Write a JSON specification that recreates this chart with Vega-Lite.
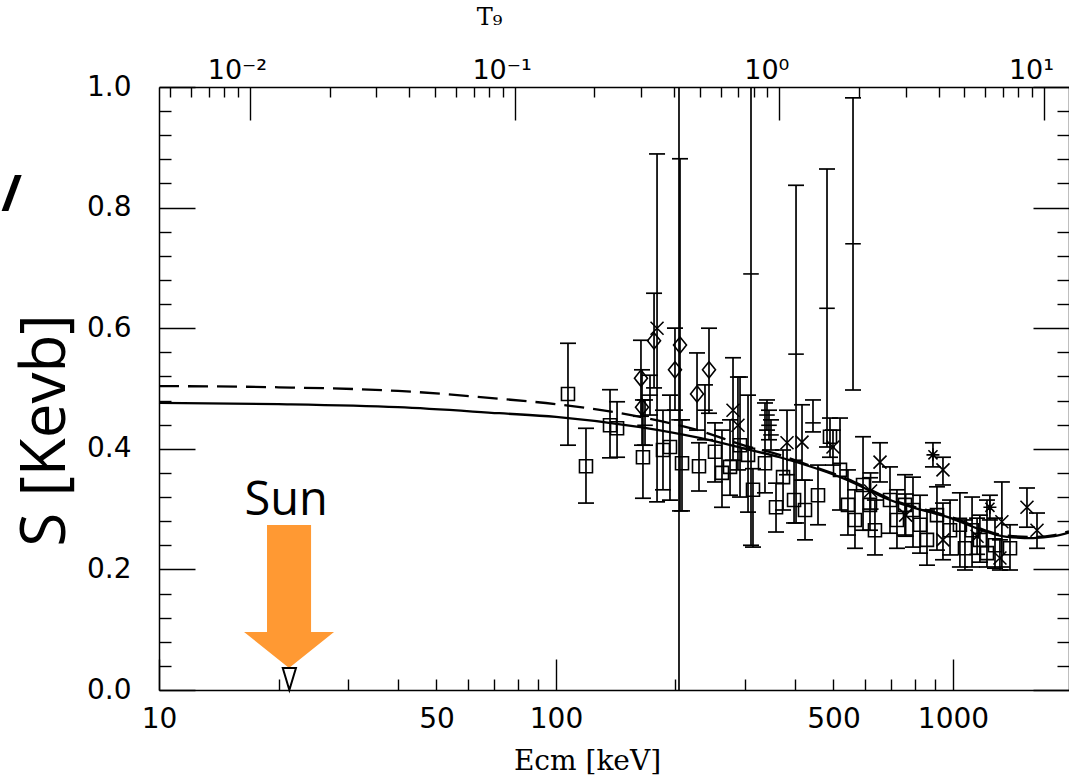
{
  "$schema": "https://vega.github.io/schema/vega-lite/v6.json",
  "width": 910,
  "height": 603,
  "autosize": {"type": "none"},
  "padding": {"left": 159, "top": 87, "right": 0, "bottom": 86},
  "background": "white",
  "config": {
    "view": {"stroke": null},
    "axis": {"domainColor": "black", "domainWidth": 1.5, "tickColor": "black", "tickWidth": 1.4, "labelColor": "black", "titleColor": "black", "grid": false, "labelFlush": false, "labelOverlap": false, "labelBound": false}
  },
  "datasets": {
    "pts": [
      {"E": 107.2, "S": 0.491, "lo": 0.406, "hi": 0.575, "m": "sq"},
      {"E": 119.0, "S": 0.371, "lo": 0.310, "hi": 0.434, "m": "sq"},
      {"E": 136.8, "S": 0.439, "lo": 0.385, "hi": 0.498, "m": "sq"},
      {"E": 142.5, "S": 0.434, "lo": 0.386, "hi": 0.478, "m": "sq"},
      {"E": 163.7, "S": 0.517, "lo": 0.454, "hi": 0.580, "m": "di"},
      {"E": 164.7, "S": 0.469, "lo": 0.406, "hi": 0.531, "m": "di"},
      {"E": 165.6, "S": 0.386, "lo": 0.318, "hi": 0.481, "m": "sq"},
      {"E": 176.6, "S": 0.579, "lo": 0.501, "hi": 0.658, "m": "di"},
      {"E": 179.7, "S": 0.600, "lo": 0.312, "hi": 0.889, "m": "x"},
      {"E": 186.0, "S": 0.398, "lo": 0.332, "hi": 0.464, "m": "sq"},
      {"E": 193.7, "S": 0.403, "lo": 0.315, "hi": 0.489, "m": "sq"},
      {"E": 199.4, "S": 0.531, "lo": 0.464, "hi": 0.600, "m": "di"},
      {"E": 205.3, "S": 0.572, "lo": 0.297, "hi": 0.881, "m": "di"},
      {"E": 204.1, "S": 0.448, "lo": -0.3, "hi": 1.3, "m": "da"},
      {"E": 207.7, "S": 0.376, "lo": 0.297, "hi": 0.448, "m": "sq"},
      {"E": 226.6, "S": 0.491, "lo": 0.431, "hi": 0.559, "m": "di"},
      {"E": 229.2, "S": 0.371, "lo": 0.330, "hi": 0.410, "m": "sq"},
      {"E": 242.9, "S": 0.531, "lo": 0.459, "hi": 0.600, "m": "di"},
      {"E": 251.5, "S": 0.395, "lo": 0.345, "hi": 0.443, "m": "sq"},
      {"E": 261.9, "S": 0.360, "lo": 0.303, "hi": 0.431, "m": "sq"},
      {"E": 274.4, "S": 0.370, "lo": 0.323, "hi": 0.448, "m": "sq"},
      {"E": 279.2, "S": 0.464, "lo": 0.381, "hi": 0.551, "m": "x"},
      {"E": 287.3, "S": 0.439, "lo": 0.365, "hi": 0.519, "m": "x"},
      {"E": 304.6, "S": 0.390, "lo": 0.295, "hi": 0.489, "m": "sq"},
      {"E": 309.9, "S": 0.690, "lo": 0.240, "hi": 1.139, "m": "da"},
      {"E": 313.5, "S": 0.332, "lo": 0.237, "hi": 0.367, "m": "sq"},
      {"E": 336.1, "S": 0.376, "lo": 0.327, "hi": 0.476, "m": "sq"},
      {"E": 344.0, "S": 0.439, "lo": 0.415, "hi": 0.464, "m": "da"},
      {"E": 358.3, "S": 0.303, "lo": 0.262, "hi": 0.343, "m": "sq"},
      {"E": 373.2, "S": 0.353, "lo": 0.2985, "hi": 0.398, "m": "sq"},
      {"E": 381.9, "S": 0.410, "lo": 0.357, "hi": 0.464, "m": "x"},
      {"E": 397.8, "S": 0.315, "lo": 0.277, "hi": 0.381, "m": "sq"},
      {"E": 402.4, "S": 0.557, "lo": 0.277, "hi": 0.837, "m": "da"},
      {"E": 416.6, "S": 0.411, "lo": 0.348, "hi": 0.473, "m": "x"},
      {"E": 444.0, "S": 0.443, "lo": 0.428, "hi": 0.481, "m": "da"},
      {"E": 481.6, "S": 0.633, "lo": 0.403, "hi": 0.864, "m": "da"},
      {"E": 490.0, "S": 0.420, "lo": 0.386, "hi": 0.451, "m": "sq"},
      {"E": 498.6, "S": 0.403, "lo": 0.373, "hi": 0.431, "m": "x"},
      {"E": 519.3, "S": 0.365, "lo": 0.2985, "hi": 0.451, "m": "sq"},
      {"E": 560.0, "S": 0.740, "lo": 0.4975, "hi": 0.982, "m": "da"},
      {"E": 593.5, "S": 0.340, "lo": 0.265, "hi": 0.420, "m": "sq"},
      {"E": 655.0, "S": 0.378, "lo": 0.345, "hi": 0.410, "m": "x"},
      {"E": 694.0, "S": 0.315, "lo": 0.260, "hi": 0.370, "m": "sq"},
      {"E": 793.0, "S": 0.2985, "lo": 0.237, "hi": 0.353, "m": "sq"},
      {"E": 890.4, "S": 0.390, "lo": 0.370, "hi": 0.410, "m": "st"},
      {"E": 943.6, "S": 0.365, "lo": 0.340, "hi": 0.386, "m": "x"},
      {"E": 911.3, "S": 0.290, "lo": 0.232, "hi": 0.337, "m": "sq"},
      {"E": 943.6, "S": 0.249, "lo": 0.216, "hi": 0.310, "m": "x"},
      {"E": 1041, "S": 0.274, "lo": 0.204, "hi": 0.327, "m": "sq"},
      {"E": 1117, "S": 0.265, "lo": 0.204, "hi": 0.320, "m": "sq"},
      {"E": 1218, "S": 0.227, "lo": 0.204, "hi": 0.315, "m": "sq"},
      {"E": 1239, "S": 0.303, "lo": 0.282, "hi": 0.323, "m": "st"},
      {"E": 1328, "S": 0.279, "lo": 0.204, "hi": 0.345, "m": "x"},
      {"E": 1313, "S": 0.219, "lo": 0.199, "hi": 0.249, "m": "x"},
      {"E": 1536, "S": 0.303, "lo": 0.270, "hi": 0.335, "m": "x"},
      {"E": 1628, "S": 0.265, "lo": 0.235, "hi": 0.2935, "m": "x"},
      {"E": 423.9, "S": 0.2985, "lo": 0.249, "hi": 0.348, "m": "sq"},
      {"E": 457.1, "S": 0.323, "lo": 0.274, "hi": 0.373, "m": "sq"},
      {"E": 543.8, "S": 0.307, "lo": 0.257, "hi": 0.365, "m": "sq"},
      {"E": 566.4, "S": 0.282, "lo": 0.235, "hi": 0.332, "m": "sq"},
      {"E": 617.9, "S": 0.307, "lo": 0.265, "hi": 0.352, "m": "sq"},
      {"E": 636.0, "S": 0.265, "lo": 0.224, "hi": 0.315, "m": "sq"},
      {"E": 722.6, "S": 0.282, "lo": 0.235, "hi": 0.332, "m": "sq"},
      {"E": 757.0, "S": 0.307, "lo": 0.257, "hi": 0.357, "m": "sq"},
      {"E": 826.0, "S": 0.274, "lo": 0.227, "hi": 0.323, "m": "sq"},
      {"E": 860.0, "S": 0.249, "lo": 0.207, "hi": 0.2985, "m": "sq"},
      {"E": 983.0, "S": 0.265, "lo": 0.224, "hi": 0.315, "m": "sq"},
      {"E": 1072, "S": 0.235, "lo": 0.199, "hi": 0.282, "m": "sq"},
      {"E": 1169, "S": 0.249, "lo": 0.212, "hi": 0.290, "m": "sq"},
      {"E": 1276, "S": 0.240, "lo": 0.202, "hi": 0.285, "m": "sq"},
      {"E": 1392, "S": 0.235, "lo": 0.199, "hi": 0.274, "m": "sq"},
      {"E": 167.6, "S": 0.439, "lo": 0.406, "hi": 0.481, "m": "da"},
      {"E": 172.5, "S": 0.489, "lo": 0.456, "hi": 0.522, "m": "da"},
      {"E": 340.0, "S": 0.456, "lo": 0.431, "hi": 0.481, "m": "da"},
      {"E": 348.0, "S": 0.423, "lo": 0.398, "hi": 0.448, "m": "da"},
      {"E": 237.3, "S": 0.464, "lo": 0.415, "hi": 0.506, "m": "da"},
      {"E": 290.8, "S": 0.406, "lo": 0.320, "hi": 0.519, "m": "sq"},
      {"E": 620.0, "S": 0.330, "lo": 0.300, "hi": 0.360, "m": "x"},
      {"E": 760.0, "S": 0.290, "lo": 0.255, "hi": 0.325, "m": "x"},
      {"E": 1150, "S": 0.255, "lo": 0.225, "hi": 0.285, "m": "x"}
    ],
    "solid": [
      {"E": 10, "S": 0.476}, {"E": 20, "S": 0.474}, {"E": 40, "S": 0.469}, {"E": 72, "S": 0.459},
      {"E": 100, "S": 0.453}, {"E": 163, "S": 0.436}, {"E": 230, "S": 0.418}, {"E": 300, "S": 0.400},
      {"E": 366, "S": 0.386}, {"E": 412, "S": 0.376}, {"E": 543, "S": 0.348}, {"E": 694, "S": 0.315},
      {"E": 966, "S": 0.287}, {"E": 1368, "S": 0.254}, {"E": 1591, "S": 0.252}, {"E": 1800, "S": 0.255}, {"E": 1960, "S": 0.261}
    ],
    "dashed": [
      {"E": 10, "S": 0.504}, {"E": 20, "S": 0.502}, {"E": 40, "S": 0.496}, {"E": 72, "S": 0.483},
      {"E": 100, "S": 0.474}, {"E": 163, "S": 0.453}, {"E": 230, "S": 0.430}, {"E": 300, "S": 0.405},
      {"E": 366, "S": 0.390}, {"E": 412, "S": 0.378}, {"E": 543, "S": 0.350}, {"E": 694, "S": 0.317},
      {"E": 966, "S": 0.289}, {"E": 1368, "S": 0.256}, {"E": 1591, "S": 0.254}, {"E": 1800, "S": 0.257}, {"E": 1960, "S": 0.263}
    ]
  },
  "layer": [
    {
      "data": {"name": "solid"},
      "mark": {"type": "line", "color": "black", "strokeWidth": 2.3, "interpolate": "monotone"},
      "encoding": {
        "x": {"field": "E", "type": "quantitative", "scale": {"type": "log", "domain": [10, 1960], "nice": false},
          "axis": {
            "orient": "bottom",
            "values": [10, 20, 30, 40, 50, 60, 70, 80, 90, 100, 200, 300, 400, 500, 600, 700, 800, 900, 1000],
            "labelExpr": "(datum.value==10||datum.value==50||datum.value==100||datum.value==500||datum.value==1000)?format(datum.value,'d'):''",
            "tickSize": {"condition": {"test": "datum.value==10||datum.value==100||datum.value==1000", "value": -31}, "value": -11},
            "labelPadding": {"condition": {"test": "datum.value==10||datum.value==100||datum.value==1000", "value": 46}, "value": 26},
            "labelFont": "DejaVu Sans", "labelFontSize": 28, "labelFontWeight": "normal", "labelBaseline": "top",
            "title": "Ecm [keV]", "titleFont": "DejaVu Serif", "titleFontSize": 28, "titleFontWeight": "normal",
            "titleX": 428, "titleY": 79, "titleAlign": "center", "titleBaseline": "alphabetic"
          }},
        "y": {"field": "S", "type": "quantitative", "scale": {"domain": [0, 1], "nice": false, "zero": false},
          "axis": {
            "orient": "left",
            "values": [0, 0.04, 0.08, 0.12, 0.16, 0.2, 0.24, 0.28, 0.32, 0.36, 0.4, 0.44, 0.48, 0.52, 0.56, 0.6, 0.64, 0.68, 0.72, 0.76, 0.8, 0.84, 0.88, 0.92, 0.96, 1],
            "labelExpr": "abs(datum.value*5-round(datum.value*5))<0.001?format(datum.value,'.1f'):''",
            "tickSize": {"condition": {"test": "abs(datum.value*5-round(datum.value*5))<0.001", "value": -36}, "value": -12},
            "labelPadding": {"condition": {"test": "abs(datum.value*5-round(datum.value*5))<0.001", "value": 64}, "value": 40},
            "labelFont": "DejaVu Sans", "labelFontSize": 28, "labelFontWeight": "normal", "labelBaseline": "middle",
            "title": "S [Kevb]", "titleFont": "Open Sans", "titleFontSize": 62, "titleFontWeight": "normal",
            "titleAngle": 270, "titleX": -114, "titleY": 343, "titleAlign": "center", "titleBaseline": "middle"
          }}
      }
    },
    {
      "data": {"name": "dashed"},
      "mark": {"type": "line", "color": "black", "strokeWidth": 2.3, "strokeDash": [20, 9], "interpolate": "monotone"},
      "encoding": {
        "x": {"field": "E", "type": "quantitative", "scale": {"type": "log", "domain": [10, 1960], "nice": false}, "axis": null},
        "y": {"field": "S", "type": "quantitative", "scale": {"domain": [0, 1], "nice": false, "zero": false}, "axis": null}
      }
    },
    {
      "data": {"name": "pts"},
      "mark": {"type": "rule", "color": "black", "strokeWidth": 1.7, "clip": true},
      "encoding": {
        "x": {"field": "E", "type": "quantitative", "scale": {"type": "log", "domain": [10, 1960], "nice": false}, "axis": null},
        "y": {"field": "lo", "type": "quantitative", "scale": {"domain": [0, 1], "nice": false, "zero": false}, "axis": null},
        "y2": {"field": "hi"}
      }
    },
    {
      "data": {"name": "pts"},
      "mark": {"type": "tick", "orient": "horizontal", "size": 16, "thickness": 1.7, "color": "black", "opacity": 1, "clip": true},
      "encoding": {
        "x": {"field": "E", "type": "quantitative", "scale": {"type": "log", "domain": [10, 1960], "nice": false}, "axis": null},
        "y": {"field": "lo", "type": "quantitative", "scale": {"domain": [0, 1], "nice": false, "zero": false}, "axis": null}
      }
    },
    {
      "data": {"name": "pts"},
      "mark": {"type": "tick", "orient": "horizontal", "size": 16, "thickness": 1.7, "color": "black", "opacity": 1, "clip": true},
      "encoding": {
        "x": {"field": "E", "type": "quantitative", "scale": {"type": "log", "domain": [10, 1960], "nice": false}, "axis": null},
        "y": {"field": "hi", "type": "quantitative", "scale": {"domain": [0, 1], "nice": false, "zero": false}, "axis": null}
      }
    },
    {
      "data": {"name": "pts"},
      "mark": {"type": "point", "filled": false, "stroke": "black", "strokeWidth": 1.6, "size": 169, "opacity": 1, "clip": true},
      "encoding": {
        "x": {"field": "E", "type": "quantitative", "scale": {"type": "log", "domain": [10, 1960], "nice": false}, "axis": null},
        "y": {"field": "S", "type": "quantitative", "scale": {"domain": [0, 1], "nice": false, "zero": false}, "axis": null},
        "shape": {"field": "m", "type": "nominal", "legend": null,
          "scale": {"domain": ["sq", "x", "di", "st", "da"],
            "range": ["M-1,-1L1,-1L1,1L-1,1Z", "M-1,-1L1,1M-1,1L1,-1", "M0,-1.25L1,0L0,1.25L-1,0Z", "M-1,0L1,0M0,-1L0,1M-0.7,-0.7L0.7,0.7M-0.7,0.7L0.7,-0.7", "M-1.2,0L1.2,0"]}}
      }
    },
    {
      "data": {"values": [{"E": 21.26, "S": 0.155}]},
      "mark": {"type": "point", "shape": "M-0.308,-1L0.308,-1L0.308,0.497L0.629,0.497L0,1L-0.629,0.497L-0.308,0.497Z", "size": 20449, "filled": true, "color": "#FF9933", "opacity": 1, "strokeWidth": 0},
      "encoding": {
        "x": {"field": "E", "type": "quantitative", "scale": {"type": "log", "domain": [10, 1960], "nice": false}, "axis": null},
        "y": {"field": "S", "type": "quantitative", "scale": {"domain": [0, 1], "nice": false, "zero": false}, "axis": null}
      }
    },
    {
      "data": {"values": [{"E": 21.3, "S": 0}]},
      "mark": {"type": "point", "shape": "M-0.6,-2L0.6,-2L0,0Z", "size": 484, "filled": false, "stroke": "black", "strokeWidth": 2, "opacity": 1},
      "encoding": {
        "x": {"field": "E", "type": "quantitative", "scale": {"type": "log", "domain": [10, 1960], "nice": false}, "axis": null},
        "y": {"field": "S", "type": "quantitative", "scale": {"domain": [0, 1], "nice": false, "zero": false}, "axis": null}
      }
    },
    {
      "data": {"values": [{"E": 20.9, "S": 0.29, "t": "Sun"}]},
      "mark": {"type": "text", "font": "Open Sans", "fontSize": 47, "color": "black", "align": "center", "baseline": "alphabetic"},
      "encoding": {
        "x": {"field": "E", "type": "quantitative", "scale": {"type": "log", "domain": [10, 1960], "nice": false}, "axis": null},
        "y": {"field": "S", "type": "quantitative", "scale": {"domain": [0, 1], "nice": false, "zero": false}, "axis": null},
        "text": {"field": "t"}
      }
    },
    {
      "data": {"values": [{"E": 4.25, "S": 0.795, "t": "/"}]},
      "mark": {"type": "text", "font": "Open Sans", "fontSize": 50, "fontWeight": "bold", "color": "black", "align": "center", "baseline": "alphabetic"},
      "encoding": {
        "x": {"field": "E", "type": "quantitative", "scale": {"type": "log", "domain": [10, 1960], "nice": false}, "axis": null},
        "y": {"field": "S", "type": "quantitative", "scale": {"domain": [0, 1], "nice": false, "zero": false}, "axis": null},
        "text": {"field": "t"}
      }
    },
    {
      "data": {"values": [{"T9": 0.01, "S": 0.5}]},
      "mark": {"type": "point", "opacity": 0},
      "encoding": {
        "x": {"field": "T9", "type": "quantitative", "scale": {"type": "log", "domain": [0.004534, 12.43], "nice": false},
          "axis": {
            "orient": "top",
            "values": [0.005, 0.006, 0.007, 0.008, 0.009, 0.01, 0.02, 0.03, 0.04, 0.05, 0.06, 0.07, 0.08, 0.09, 0.1, 0.2, 0.3, 0.4, 0.5, 0.6, 0.7, 0.8, 0.9, 1, 2, 3, 4, 5, 6, 7, 8, 9, 10],
            "labelExpr": "datum.value==0.01?'10⁻²':datum.value==0.1?'10⁻¹':datum.value==1?'10⁰':datum.value==10?'10¹':''",
            "tickSize": {"condition": {"test": "datum.value==0.01||datum.value==0.1||datum.value==1||datum.value==10", "value": -33}, "value": -10},
            "labelPadding": {"condition": {"test": "datum.value==0.01||datum.value==0.1||datum.value==1||datum.value==10", "value": 42}, "value": 19},
            "labelFont": "DejaVu Sans", "labelFontSize": 27, "labelFontWeight": "normal", "labelOffset": -13, "labelBaseline": "alphabetic",
            "title": "T₉", "titleFont": "DejaVu Serif", "titleFontSize": 24, "titleFontWeight": "normal",
            "titleX": 330, "titleY": -63, "titleAlign": "center", "titleBaseline": "alphabetic"
          }},
        "y": {"field": "S", "type": "quantitative", "scale": {"domain": [0, 1], "nice": false, "zero": false},
          "axis": {
            "orient": "right",
            "values": [0, 0.04, 0.08, 0.12, 0.16, 0.2, 0.24, 0.28, 0.32, 0.36, 0.4, 0.44, 0.48, 0.52, 0.56, 0.6, 0.64, 0.68, 0.72, 0.76, 0.8, 0.84, 0.88, 0.92, 0.96, 1],
            "labels": false,
            "tickSize": {"condition": {"test": "abs(datum.value*5-round(datum.value*5))<0.001", "value": -36}, "value": -12},
            "title": null
          }}
      }
    }
  ],
  "resolve": {"scale": {"x": "independent", "y": "independent"}}
}
